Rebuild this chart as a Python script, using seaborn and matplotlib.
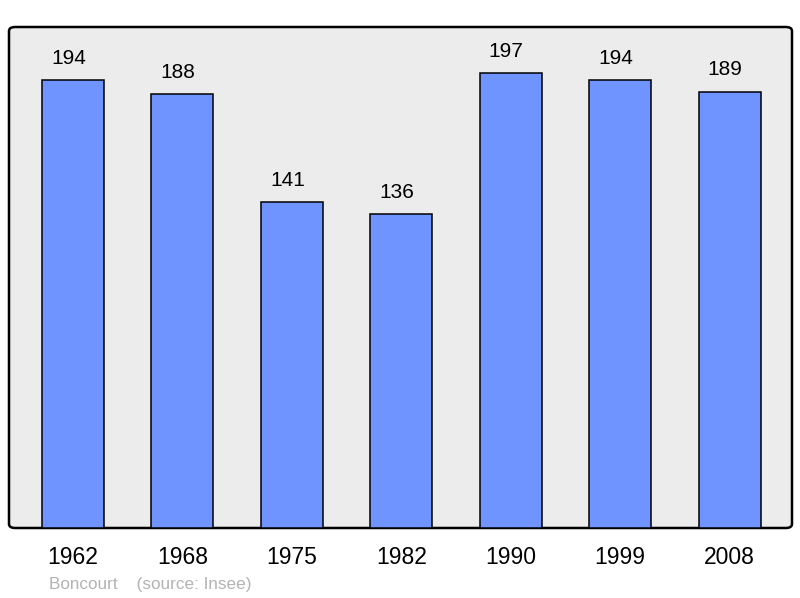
import matplotlib
matplotlib.use("Agg")
import matplotlib.pyplot as plt
import seaborn as sns
import pandas as pd
from matplotlib.patches import FancyBboxPatch
from matplotlib.transforms import offset_copy

years = ["1962", "1968", "1975", "1982", "1990", "1999", "2008"]
population = [194, 188, 141, 136, 197, 194, 189]

sns.set_style("white")
plt.rcParams['font.family'] = ['Liberation Sans', 'DejaVu Sans']

df = pd.DataFrame({"year": years, "pop": population})

fig = plt.figure(figsize=(8, 5.98), dpi=100)
ax = fig.add_axes([9/800, 1 - 528/598, 783/800, 501/598])
ax.set_facecolor("none")

bg = FancyBboxPatch((0, 0), 1, 1,
                    boxstyle="round,pad=0,rounding_size=0.008",
                    transform=ax.transAxes, facecolor="#ececec",
                    edgecolor="black", linewidth=1.8, zorder=0.5, clip_on=False)
ax.add_patch(bg)

sns.barplot(data=df, x="year", y="pop", color="#7094ff", saturation=1,
            width=0.567, edgecolor="black", linewidth=1.1, ax=ax, zorder=2)

lab_tr = offset_copy(ax.transData, fig=fig, x=-4.5, y=0, units="dots")
for i, v in enumerate(population):
    ax.text(i, v + 9.5, str(v), ha="center", va="center", fontsize=15,
            color="black", transform=lab_tr)

ax.set_xlim(-0.585, 6.57)
ax.set_ylim(0, 217)
ax.set_xlabel("")
ax.set_ylabel("")
ax.set_yticks([])
ax.tick_params(axis="x", length=0, pad=13, labelsize=16.5, labelcolor="black")
for s in ax.spines.values():
    s.set_visible(False)

fig.text(49/800, 1 - 584/598, "Boncourt    (source: Insee)", fontsize=12.3,
         color="#b3b3b3", ha="left", va="center")

fig.savefig("out.png", dpi=100)
